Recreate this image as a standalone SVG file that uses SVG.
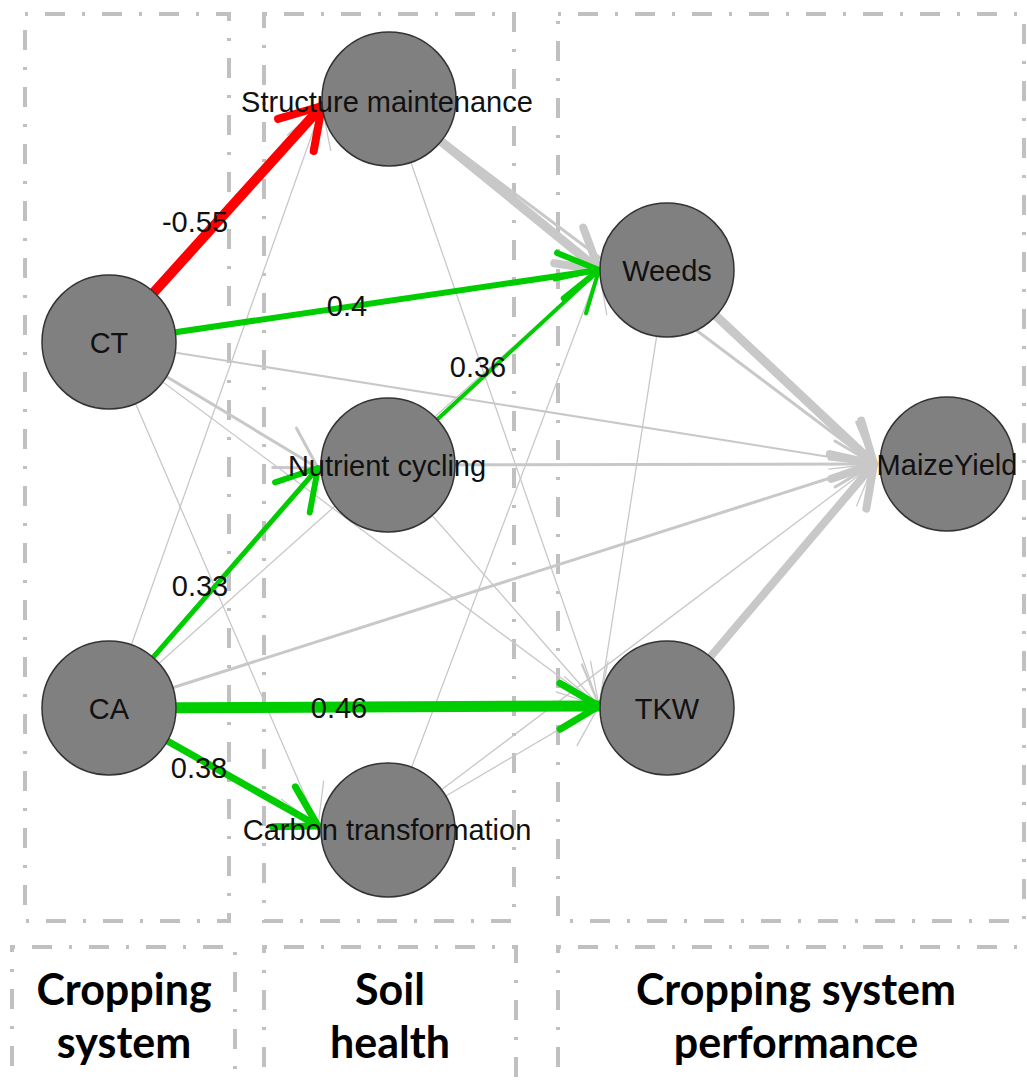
<svg xmlns="http://www.w3.org/2000/svg" width="1027" height="1081" viewBox="0 0 1027 1081">
<style>
.box{fill:none;stroke:#c0c0c0;stroke-width:4;stroke-dasharray:3 17 20 17}
.e{fill:none;stroke-linecap:round}
.red{stroke:#ff0000}
.grn{stroke:#00cd00}
.gry{stroke:#c8c8c8}
.node circle{fill:#808080;stroke:#333333;stroke-width:1.5}
.lbl{font-family:"Liberation Sans",Arial,sans-serif;font-size:29px;fill:#111111;text-anchor:middle}
.cat{font-family:Lato,"Open Sans",sans-serif;font-weight:bold;font-size:43px;fill:#000000;text-anchor:middle}
</style>
<defs>
<marker id="m-red" viewBox="-60 -40 70 80" refX="0" refY="0" markerWidth="70" markerHeight="80" markerUnits="userSpaceOnUse" orient="auto" overflow="visible"><path d="M-39,-24 L0,0 L-39,24" fill="none" stroke="#ff0000" stroke-width="8" stroke-linecap="round" stroke-linejoin="round"/></marker>
<marker id="m-g4" viewBox="-60 -40 70 80" refX="0" refY="0" markerWidth="70" markerHeight="80" markerUnits="userSpaceOnUse" orient="auto" overflow="visible"><path d="M-39,-23 L0,0 L-39,23" fill="none" stroke="#00cd00" stroke-width="4" stroke-linecap="round" stroke-linejoin="round"/></marker>
<marker id="m-g6" viewBox="-60 -40 70 80" refX="0" refY="0" markerWidth="70" markerHeight="80" markerUnits="userSpaceOnUse" orient="auto" overflow="visible"><path d="M-39,-23 L0,0 L-39,23" fill="none" stroke="#00cd00" stroke-width="6" stroke-linecap="round" stroke-linejoin="round"/></marker>
<marker id="m-g7" viewBox="-60 -40 70 80" refX="0" refY="0" markerWidth="70" markerHeight="80" markerUnits="userSpaceOnUse" orient="auto" overflow="visible"><path d="M-39,-23 L0,0 L-39,23" fill="none" stroke="#00cd00" stroke-width="7" stroke-linecap="round" stroke-linejoin="round"/></marker>
<marker id="m-y1" viewBox="-60 -40 70 80" refX="0" refY="0" markerWidth="70" markerHeight="80" markerUnits="userSpaceOnUse" orient="auto" overflow="visible"><path d="M-39,-23 L0,0 L-39,23" fill="none" stroke="#c8c8c8" stroke-width="1.3" stroke-linecap="round" stroke-linejoin="round"/></marker>
<marker id="m-y3" viewBox="-60 -40 70 80" refX="0" refY="0" markerWidth="70" markerHeight="80" markerUnits="userSpaceOnUse" orient="auto" overflow="visible"><path d="M-39,-23 L0,0 L-39,23" fill="none" stroke="#c8c8c8" stroke-width="3" stroke-linecap="round" stroke-linejoin="round"/></marker>
<marker id="m-y8" viewBox="-60 -40 70 80" refX="0" refY="0" markerWidth="70" markerHeight="80" markerUnits="userSpaceOnUse" orient="auto" overflow="visible"><path d="M-39,-23 L0,0 L-39,23" fill="none" stroke="#c8c8c8" stroke-width="8" stroke-linecap="round" stroke-linejoin="round"/></marker>
</defs>
<rect width="1027" height="1081" fill="#ffffff"/>
<g id="groups">
<rect class="box" x="25" y="14" width="204" height="907"/>
<rect class="box" x="264" y="14" width="250" height="907"/>
<rect class="box" x="558" y="14" width="466" height="907"/>
<rect class="box" x="12" y="947" width="223" height="160"/>
<rect class="box" x="264" y="947" width="252" height="160"/>
<rect class="box" x="558" y="947" width="480" height="160"/>
</g>
<g id="connectors">
<line class="e gry" stroke-width="1.3" x1="109" y1="342" x2="318" y2="826" marker-end="url(#m-y1)"/>
<line class="e gry" stroke-width="1.3" x1="109" y1="342" x2="599" y2="706" marker-end="url(#m-y1)"/>
<line class="e gry" stroke-width="2" x1="109" y1="342" x2="874" y2="464" marker-end="url(#m-y1)"/>
<line class="e gry" stroke-width="3" x1="109" y1="342" x2="318" y2="468" marker-end="url(#m-y3)"/>
<line class="e gry" stroke-width="1.3" x1="109" y1="708" x2="322" y2="106" marker-end="url(#m-y1)"/>
<line class="e gry" stroke-width="1.3" x1="109" y1="708" x2="599" y2="270" marker-end="url(#m-y1)"/>
<line class="e gry" stroke-width="3" x1="109" y1="708" x2="874" y2="464" marker-end="url(#m-y3)"/>
<line class="e gry" stroke-width="1.3" x1="389" y1="99" x2="599" y2="706" marker-end="url(#m-y1)"/>
<line class="e gry" stroke-width="3" x1="389" y1="99" x2="874" y2="464" marker-end="url(#m-y3)"/>
<line class="e gry" stroke-width="9" x1="389" y1="99" x2="599" y2="270" marker-end="url(#m-y8)"/>
<line class="e gry" stroke-width="1.3" x1="388" y1="465" x2="599" y2="706" marker-end="url(#m-y1)"/>
<line class="e gry" stroke-width="3" x1="388" y1="465" x2="874" y2="464" marker-end="url(#m-y3)"/>
<line class="e gry" stroke-width="1.3" x1="388" y1="830" x2="599" y2="270" marker-end="url(#m-y1)"/>
<line class="e gry" stroke-width="1.3" x1="388" y1="830" x2="599" y2="706" marker-end="url(#m-y1)"/>
<line class="e gry" stroke-width="1.3" x1="388" y1="830" x2="874" y2="464" marker-end="url(#m-y1)"/>
<line class="e gry" stroke-width="1.3" x1="667" y1="270" x2="599" y2="706" marker-end="url(#m-y1)"/>
<line class="e gry" stroke-width="9" x1="667" y1="270" x2="874" y2="464" marker-end="url(#m-y8)"/>
<line class="e gry" stroke-width="8" x1="667" y1="708" x2="874" y2="464" marker-end="url(#m-y8)"/>
<line class="e red" stroke-width="10" x1="109" y1="342" x2="322" y2="106" marker-end="url(#m-red)"/>
<line class="e grn" stroke-width="6" x1="109" y1="342" x2="599" y2="270" marker-end="url(#m-g6)"/>
<line class="e grn" stroke-width="4" x1="388" y1="465" x2="599" y2="270" marker-end="url(#m-g4)"/>
<line class="e grn" stroke-width="5" x1="109" y1="708" x2="318" y2="468" marker-end="url(#m-g6)"/>
<line class="e grn" stroke-width="11" x1="109" y1="708" x2="599" y2="706" marker-end="url(#m-g7)"/>
<line class="e grn" stroke-width="7" x1="109" y1="708" x2="318" y2="826" marker-end="url(#m-g7)"/>
</g>
<g id="n-ct" class="node"><circle cx="109" cy="342" r="67"/><text class="lbl" x="109" y="353">CT</text></g>
<g id="n-ca" class="node"><circle cx="109" cy="708" r="67"/><text class="lbl" x="109" y="719">CA</text></g>
<g id="n-sm" class="node"><circle cx="389" cy="99" r="67"/><text class="lbl" x="387" y="112">Structure maintenance</text></g>
<g id="n-nc" class="node"><circle cx="388" cy="465" r="67"/><text class="lbl" x="387" y="476">Nutrient cycling</text></g>
<g id="n-cat" class="node"><circle cx="388" cy="830" r="67"/><text class="lbl" x="387" y="840">Carbon transformation</text></g>
<g id="n-weeds" class="node"><circle cx="667" cy="270" r="67"/><text class="lbl" x="667" y="281">Weeds</text></g>
<g id="n-tkw" class="node"><circle cx="667" cy="708" r="67"/><text class="lbl" x="667" y="719">TKW</text></g>
<g id="n-my" class="node"><circle cx="947" cy="464" r="67"/><text class="lbl" x="947" y="475">MaizeYield</text></g>
<g id="edge-labels">
<text class="lbl" x="195" y="232">-0.55</text>
<text class="lbl" x="347" y="316">0.4</text>
<text class="lbl" x="478" y="377">0.36</text>
<text class="lbl" x="200" y="596">0.33</text>
<text class="lbl" x="339" y="718">0.46</text>
<text class="lbl" x="199" y="778">0.38</text>
</g>
<g id="categories">
<text class="cat" x="124" y="1005">Cropping</text>
<text class="cat" x="124" y="1058">system</text>
<text class="cat" x="390" y="1005">Soil</text>
<text class="cat" x="390" y="1058">health</text>
<text class="cat" x="796" y="1005">Cropping system</text>
<text class="cat" x="796" y="1058">performance</text>
</g>
</svg>
